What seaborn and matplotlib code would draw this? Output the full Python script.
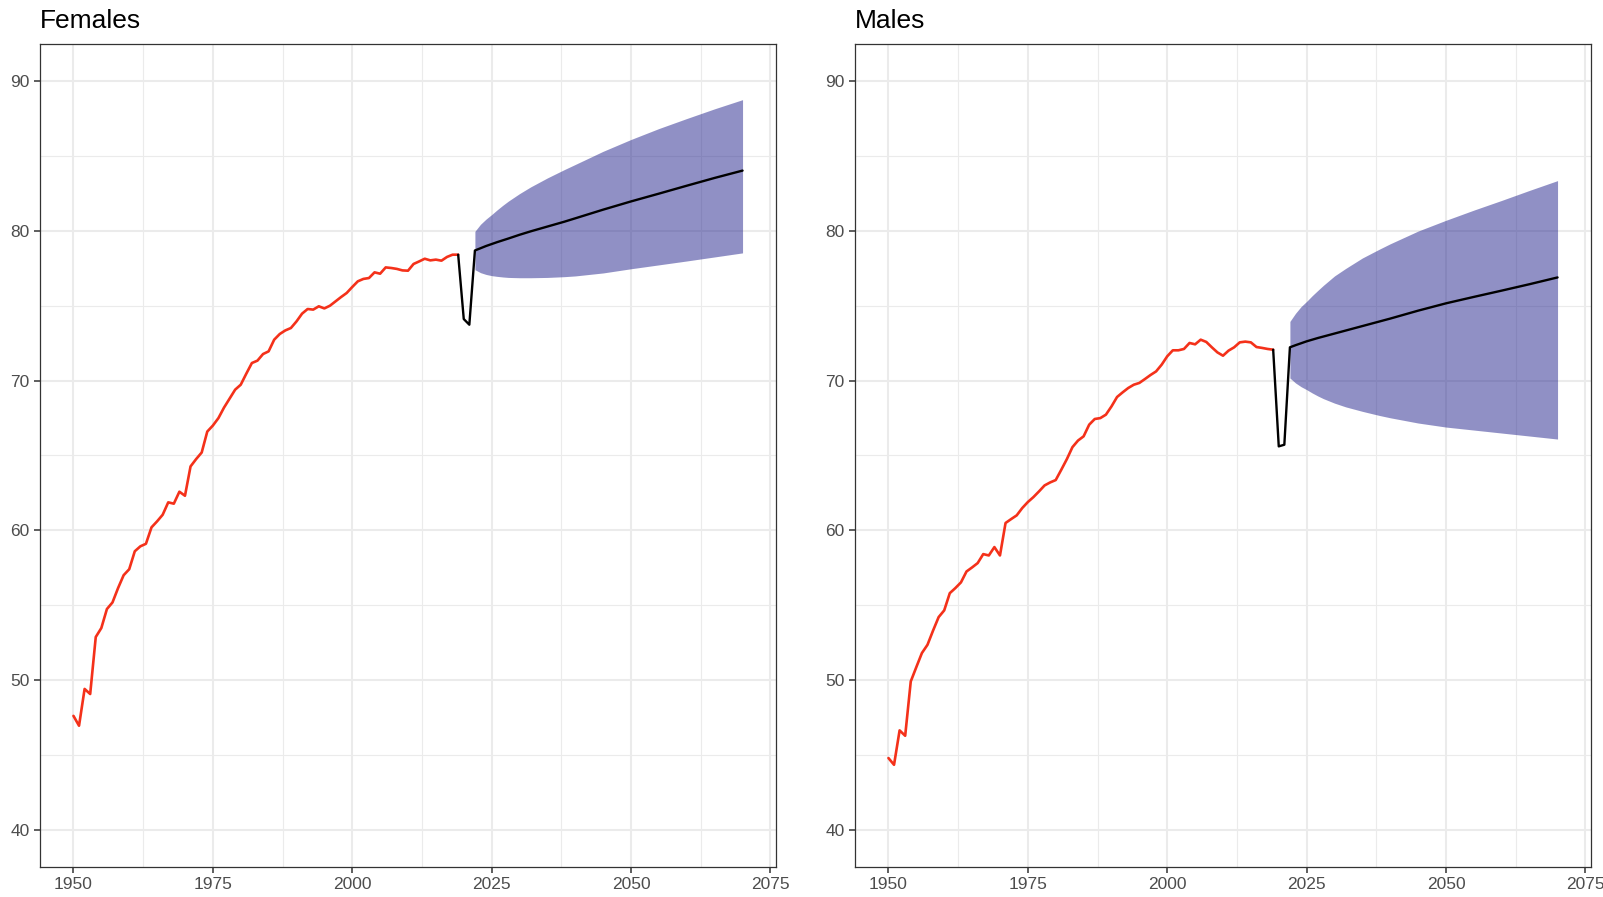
import numpy as np
import pandas as pd
import matplotlib
matplotlib.use("Agg")
import matplotlib.pyplot as plt
import seaborn as sns

# ---------------- data ----------------
hist_years = np.arange(1950, 2020)
fem_hist = [47.6, 46.94, 49.4, 49.06, 52.87, 53.47, 54.74, 55.18, 56.14, 57.0,
            57.4, 58.6, 58.93, 59.1, 60.2, 60.6, 61.04, 61.87, 61.78, 62.58,
            62.31, 64.27, 64.76, 65.2, 66.6, 67.0, 67.5, 68.2, 68.8, 69.4,
            69.73, 70.47, 71.18, 71.34, 71.78, 71.96, 72.74, 73.12, 73.36, 73.52,
            73.96, 74.48, 74.79, 74.75, 74.97, 74.83, 75.01, 75.3, 75.59, 75.86,
            76.26, 76.64, 76.8, 76.86, 77.24, 77.15, 77.57, 77.53, 77.47, 77.37,
            77.35, 77.8, 77.97, 78.15, 78.04, 78.09, 78.02, 78.27, 78.42, 78.42]
male_hist = [44.78, 44.33, 46.63, 46.27, 49.9, 50.86, 51.8, 52.35, 53.3, 54.2,
             54.65, 55.8, 56.14, 56.52, 57.25, 57.52, 57.81, 58.41, 58.32, 58.88,
             58.32, 60.49, 60.75, 61.0, 61.49, 61.89, 62.22, 62.6, 63.0, 63.2,
             63.36, 64.05, 64.76, 65.56, 66.0, 66.28, 67.06, 67.44, 67.5, 67.73,
             68.28, 68.91, 69.22, 69.51, 69.73, 69.85, 70.11, 70.38, 70.62, 71.07,
             71.63, 72.03, 72.03, 72.12, 72.52, 72.43, 72.74, 72.59, 72.23, 71.89,
             71.67, 72.01, 72.23, 72.56, 72.61, 72.56, 72.25, 72.19, 72.12, 72.07]

recent_years = [2019, 2020, 2021]
fem_recent = [78.42, 74.12, 73.74]
male_recent = [72.07, 65.61, 65.72]

fc_years = [2022, 2023, 2024, 2025, 2026, 2027, 2028, 2030, 2032, 2035, 2038,
            2040, 2045, 2050, 2055, 2060, 2065, 2070]
fem_upper = [79.98, 80.45, 80.8, 81.1, 81.42, 81.72, 82.0, 82.5, 82.95, 83.55, 84.1,
             84.45, 85.33, 86.12, 86.85, 87.52, 88.17, 88.78]
fem_mean = [78.7, 78.85, 79.0, 79.13, 79.26, 79.38, 79.5, 79.75, 79.98, 80.3, 80.62,
            80.85, 81.43, 81.98, 82.5, 83.03, 83.55, 84.04]
fem_lower = [77.42, 77.22, 77.1, 77.02, 76.97, 76.93, 76.9, 76.88, 76.88, 76.9, 76.95,
             77.0, 77.2, 77.48, 77.74, 78.0, 78.27, 78.54]
male_upper = [73.96, 74.5, 74.95, 75.3, 75.68, 76.03, 76.37, 77.0, 77.5, 78.2, 78.78,
              79.15, 80.0, 80.72, 81.4, 82.05, 82.72, 83.37]
male_mean = [72.23, 72.37, 72.5, 72.63, 72.74, 72.85, 72.95, 73.15, 73.35, 73.65, 73.95,
             74.15, 74.68, 75.17, 75.6, 76.02, 76.45, 76.9]
male_lower = [70.18, 69.85, 69.6, 69.4, 69.18, 68.98, 68.8, 68.5, 68.25, 67.95, 67.68,
              67.52, 67.17, 66.9, 66.7, 66.5, 66.3, 66.1]

titles = ["Females", "Males"]
x_ticks = [1950, 1975, 2000, 2025, 2050, 2075]
y_ticks = [40, 50, 60, 70, 80, 90]

# ---------------- style ----------------
sns.set_theme(style="white")
plt.rcParams['font.family'] = ['Liberation Sans', 'DejaVu Sans']

W, H = 1603, 897
fig = plt.figure(figsize=(W / 100, H / 100), dpi=100)

panels = [
    (titles[0], fem_hist, fem_recent, fem_upper, fem_mean, fem_lower, 40, 776),
    (titles[1], male_hist, male_recent, male_upper, male_mean, male_lower, 855, 1591),
]

top_px, bot_px = 44, 867
band_color = (35 / 255, 35 / 255, 141 / 255)
red = "#F4311A"

for title, hist, recent, up, mean, low, lpx, rpx in panels:
    ax = fig.add_axes([lpx / W, 1 - bot_px / H, (rpx - lpx) / W, (bot_px - top_px) / H])
    ax.set_facecolor("white")

    # band
    ax.fill_between(fc_years, low, up, color=band_color, alpha=0.5, lw=0, zorder=2)

    # historic (red)
    dfh = pd.DataFrame({"year": hist_years, "e0": hist})
    sns.lineplot(data=dfh, x="year", y="e0", ax=ax, color=red, lw=1.9,
                 estimator=None, sort=False, zorder=3)

    # recent + forecast mean (black)
    dfb = pd.DataFrame({"year": list(recent_years) + list(fc_years),
                        "e0": list(recent) + list(mean)})
    sns.lineplot(data=dfb, x="year", y="e0", ax=ax, color="black", lw=1.7,
                 estimator=None, sort=False, zorder=4)

    ax.set_xlim(1944, 2076)
    ax.set_ylim(37.5, 92.5)
    ax.set_xticks(x_ticks)
    ax.set_xticklabels([str(t) for t in x_ticks])
    ax.set_yticks(y_ticks)
    ax.set_yticklabels([str(t) for t in y_ticks])
    ax.set_xticks([1962.5, 1987.5, 2012.5, 2037.5, 2062.5], minor=True)
    ax.set_yticks([45, 55, 65, 75, 85], minor=True)

    ax.grid(which="major", color="#EBEBEB", lw=1.5, zorder=0)
    ax.grid(which="minor", color="#EBEBEB", lw=0.8, zorder=0)
    ax.set_axisbelow(True)

    ax.tick_params(which="major", direction="out", length=4.5, width=1.1,
                   color="#333333", labelsize=12.5, labelcolor="#4D4D4D", pad=3,
                   bottom=True, left=True)
    ax.tick_params(which="minor", length=0)
    for s in ax.spines.values():
        s.set_color("#333333")
        s.set_linewidth(0.9)
    ax.set_xlabel("")
    ax.set_ylabel("")

    fig.text(lpx / W, 1 - 28.5 / H, title, fontsize=19, color="black",
             ha="left", va="baseline")

fig.savefig("out.png", dpi=100)
